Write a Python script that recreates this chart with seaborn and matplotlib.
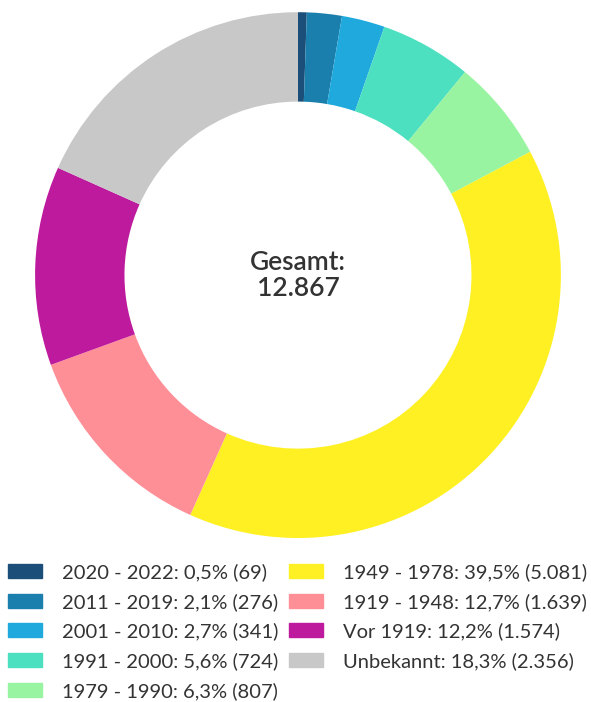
import matplotlib.pyplot as plt
import matplotlib.patches as mpatches
import seaborn as sns

# Building age classes (Baujahr) and counts
labels = ['2020 - 2022', '2011 - 2019', '2001 - 2010', '1991 - 2000', '1979 - 1990',
          '1949 - 1978', '1919 - 1948', 'Vor 1919', 'Unbekannt']
counts = [69, 276, 341, 724, 807, 5081, 1639, 1574, 2356]
shares = ['0,5', '2,1', '2,7', '5,6', '6,3', '39,5', '12,7', '12,2', '18,3']
colors = ['#1b4f7a', '#1a7fad', '#1fa9dc', '#4de0c0', '#98f4a0',
          '#fef022', '#ff8f97', '#bd1a9e', '#c8c8c8']
total_label = 'Gesamt:\n12.867'

sns.set_theme(style='white')
plt.rcParams['font.family'] = ['Lato', 'DejaVu Sans']

fig = plt.figure(figsize=(5.91, 7.02), dpi=100)
ax = fig.add_axes([0.0592, 0.2336, 0.890, 0.749])

ax.pie(counts, colors=colors, startangle=90, counterclock=False,
       wedgeprops=dict(width=0.34, edgecolor='none'))
ax.set_xlim(-1, 1)
ax.set_ylim(-1, 1)
ax.set_aspect('equal')
ax.text(0, 0, total_label, ha='center', va='center', fontsize=19,
        fontweight='semibold', color='#333333', linespacing=1.05)

def fmt(n):
    return f'{n:,}'.replace(',', '.')

handles = [mpatches.Patch(color=c) for c in colors]
legend_labels = [f'{l}: {s}% ({fmt(n)})' for l, s, n in zip(labels, shares, counts)]
fig.legend(handles, legend_labels, ncol=2, loc='upper left',
           bbox_to_anchor=(0.0135, 0.198), frameon=False, fontsize=14.5,
           handlelength=1.69, handleheight=0.7, handletextpad=1.0,
           columnspacing=0.5, labelspacing=0.59, borderpad=0,
           borderaxespad=0, labelcolor='#333333')

fig.savefig('out.png', dpi=100)
